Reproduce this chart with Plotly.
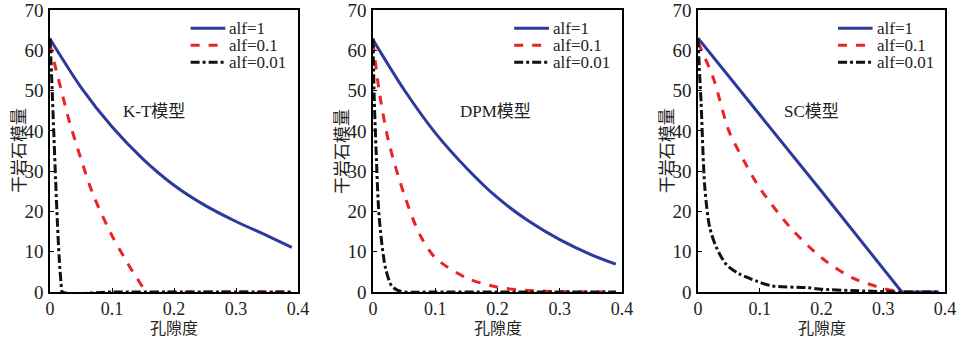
import plotly.graph_objects as go

# ---------------- data ----------------
series_names = ["alf=1", "alf=0.1", "alf=0.01"]
model_labels = ["K-T模型", "DPM模型", "SC模型"]
x_title = "孔隙度"
y_title = "干岩石模量"
x_ticks = [0, 0.1, 0.2, 0.3, 0.4]
y_ticks = [0, 10, 20, 30, 40, 50, 60, 70]

# K-T model
kt_phi_1 = [0, 0.05, 0.1, 0.15, 0.2, 0.25, 0.3, 0.35, 0.39]
kt_k_1 = [62.8, 50.8, 41.0, 33.0, 26.5, 21.5, 17.5, 14.0, 11.1]
kt_phi_01 = [0, 0.01, 0.02, 0.03, 0.05, 0.07, 0.1, 0.12, 0.14, 0.158, 0.2, 0.3, 0.39]
kt_k_01 = [61.5, 55, 49, 43, 33, 24, 14, 8.5, 3.5, 0, 0, 0, 0]
kt_phi_001 = [0, 0.003, 0.006, 0.009, 0.012, 0.015, 0.018, 0.02, 0.1, 0.2, 0.3, 0.39]
kt_k_001 = [63, 52, 40, 28, 17, 8, 2, 0, 0, 0, 0, 0]

# DPM model
dpm_phi_1 = [0, 0.05, 0.1, 0.15, 0.2, 0.25, 0.3, 0.35, 0.39]
dpm_k_1 = [62.6, 50.2, 39.5, 30.8, 23.4, 17.6, 13.0, 9.3, 6.9]
dpm_phi_01 = [0, 0.01, 0.025, 0.05, 0.075, 0.1, 0.15, 0.2, 0.25, 0.3, 0.39]
dpm_k_01 = [62, 49.8, 37.4, 24.2, 14.3, 8.5, 3.5, 1.2, 0.4, 0.1, 0]
dpm_phi_001 = [0, 0.002, 0.005, 0.01, 0.02, 0.03, 0.04, 0.05, 0.1, 0.2, 0.3, 0.39]
dpm_k_001 = [63, 48, 35, 18.4, 6, 1.5, 0.4, 0, 0, 0, 0, 0]

# SC model
sc_phi_1 = [0, 0.1, 0.2, 0.33, 0.39]
sc_k_1 = [63, 44, 25, 0, 0]
sc_phi_01 = [0, 0.025, 0.05, 0.075, 0.1, 0.15, 0.2, 0.25, 0.3, 0.33, 0.39]
sc_k_01 = [62, 53, 40, 32.4, 25.8, 15.9, 8.5, 3.5, 0.9, 0, 0]
sc_phi_001 = [0, 0.002, 0.005, 0.011, 0.019, 0.03, 0.046, 0.068, 0.095, 0.12, 0.175, 0.2, 0.26, 0.33, 0.39]
sc_k_001 = [63, 56, 47, 26, 16, 11, 6.8, 4.4, 2.7, 1.5, 1.1, 0.7, 0.3, 0, 0]

panels = [
    [(kt_phi_1, kt_k_1), (kt_phi_01, kt_k_01), (kt_phi_001, kt_k_001)],
    [(dpm_phi_1, dpm_k_1), (dpm_phi_01, dpm_k_01), (dpm_phi_001, dpm_k_001)],
    [(sc_phi_1, sc_k_1), (sc_phi_01, sc_k_01), (sc_phi_001, sc_k_001)],
]
# SC alf=1 is a straight line -> draw it linearly
line_shapes = [["spline"] * 3, ["spline"] * 3, ["linear", "spline", "spline"]]

# ---------------- styling ----------------
colors = ["#2b3a9b", "#ee2222", "#111111"]
dashes = ["solid", "dash", "dashdot"]
FONT = "Liberation Serif"
CJK = "Noto Sans CJK SC"

W, H = 963, 338
x_domains = [(50 / W, 298 / W), (373 / W, 622 / W), (698 / W, 945 / W)]
y_domain = (1 - 292 / H, 1 - 10 / H)
label_x = [0.42, 0.49, 0.46]

fig = go.Figure()
layout = dict(
    width=W, height=H,
    margin=dict(l=0, r=0, t=0, b=0, autoexpand=False),
    paper_bgcolor="white", plot_bgcolor="white",
    showlegend=False,
    font=dict(family=FONT, size=18, color="#222"),
)
annotations = []
shapes = []

for i, curves in enumerate(panels):
    xa = "x" if i == 0 else f"x{i+1}"
    ya = "y" if i == 0 else f"y{i+1}"
    for j, (px, py) in enumerate(curves):
        fig.add_trace(go.Scatter(
            x=px, y=py, mode="lines", name=series_names[j],
            line=dict(color=colors[j], width=3, dash=dashes[j],
                      shape=line_shapes[i][j], smoothing=0.8),
            xaxis=xa, yaxis=ya, showlegend=False,
        ))
    axis_common = dict(
        showline=True, linecolor="black", linewidth=1.5, mirror=True,
        ticks="inside", ticklen=4, tickcolor="black", showgrid=False,
        zeroline=False, automargin=False, ticklabeloverflow="allow",
    )
    layout["xaxis" if i == 0 else f"xaxis{i+1}"] = dict(
        domain=x_domains[i], range=[0, 0.4], tickvals=x_ticks,
        anchor=ya, tickfont=dict(family=FONT, size=18, color="#222"),
        **axis_common,
    )
    layout["yaxis" if i == 0 else f"yaxis{i+1}"] = dict(
        domain=y_domain, range=[0, 70], tickvals=y_ticks,
        anchor=xa, ticklabelstandoff=1,
        tickfont=dict(family=FONT, size=19, color="#222"),
        **axis_common,
    )
    xref_d = f"{xa} domain"
    yref_d = f"{ya} domain"
    # axis titles
    annotations.append(dict(
        text=x_title, x=0.5, y=-0.125, xref=xref_d, yref=yref_d,
        xanchor="center", yanchor="middle", showarrow=False,
        font=dict(family=CJK, size=16, color="#222"),
    ))
    annotations.append(dict(
        text=y_title, x=-0.133, y=0.5, xref=xref_d, yref=yref_d, textangle=-90,
        xanchor="center", yanchor="middle", showarrow=False,
        font=dict(family=CJK, size=17, color="#222"),
    ))
    annotations.append(dict(
        text=model_labels[i], x=label_x[i], y=0.68, xref=xref_d, yref=yref_d,
        showarrow=False, font=dict(family=FONT + ", " + CJK, size=17, color="#222"),
    ))
    # legend drawn inside each panel
    rows = [0.935, 0.875, 0.815]
    for j in range(3):
        shapes.append(dict(
            type="line", xref=xref_d, yref=yref_d,
            x0=0.567, x1=0.707, y0=rows[j], y1=rows[j],
            line=dict(color=colors[j], width=3, dash=dashes[j]),
        ))
        annotations.append(dict(
            text=series_names[j], x=0.715, y=rows[j], xref=xref_d, yref=yref_d,
            xanchor="left", yanchor="middle", showarrow=False,
            font=dict(family=FONT, size=17, color="#222"),
        ))

layout["annotations"] = annotations
layout["shapes"] = shapes
fig.update_layout(**layout)
fig.write_html(
    "out.html",
    config={"displayModeBar": False},
    post_script="document.body.style.margin='0';document.body.style.overflow='hidden';",
)
